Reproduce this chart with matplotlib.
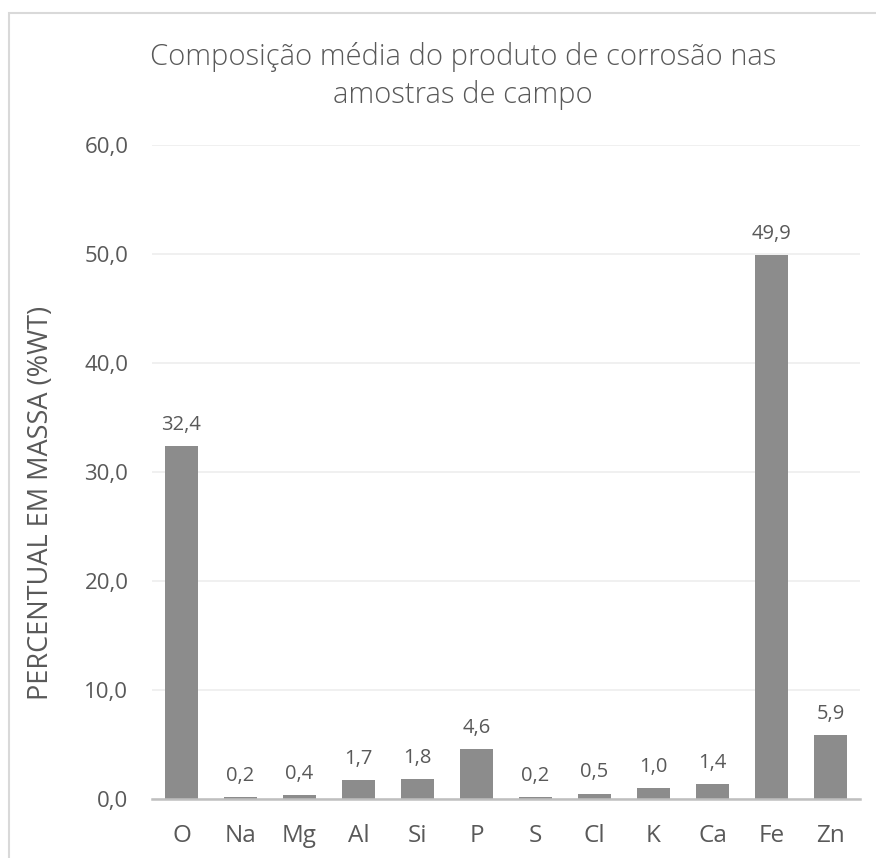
import matplotlib
matplotlib.use("Agg")
import matplotlib.pyplot as plt
from matplotlib.ticker import FuncFormatter, MultipleLocator
from matplotlib.patches import Rectangle

# dados do gráfico
elementos = ["O", "Na", "Mg", "Al", "Si", "P", "S", "Cl", "K", "Ca", "Fe", "Zn"]
valores = [32.4, 0.2, 0.4, 1.7, 1.8, 4.6, 0.2, 0.5, 1.0, 1.4, 49.9, 5.9]
titulo = "Composição média do produto de corrosão nas\namostras de campo"
rotulo_y = "PERCENTUAL EM MASSA (%WT)"

cor_texto = "#595959"
cor_barra = "#8C8C8C"

plt.rcParams["font.family"] = ["Open Sans", "DejaVu Sans"]

W, H = 876, 858
fig = plt.figure(figsize=(W / 100, H / 100), dpi=100)

# moldura do gráfico (estilo Excel)
fig.patches.append(Rectangle((9 / W, -0.1), 1.2, 1 - 13 / H + 0.1, transform=fig.transFigure,
                             fill=False, edgecolor="#D9D9D9", linewidth=1.5))

ax = fig.add_axes([152 / W, 1 - 799 / H, (860 - 152) / W, (799 - 145) / H])

x = range(len(elementos))
ax.bar(x, valores, width=0.56, color=cor_barra, zorder=3)

# rótulos de valor
for xi, v in zip(x, valores):
    ax.annotate(f"{v:.1f}".replace(".", ","), (xi, v), xytext=(0, 8), textcoords="offset points",
                ha="center", va="bottom", fontsize=14.5, color=cor_texto)

ax.set_xlim(-0.5, len(elementos) - 0.5)
ax.set_ylim(0, 60)
ax.yaxis.set_major_locator(MultipleLocator(10))
ax.yaxis.set_major_formatter(FuncFormatter(lambda v, p: f"{v:.1f}".replace(".", ",")))
ax.set_xticks(list(x))
ax.set_xticklabels(elementos)

ax.grid(axis="y", color="#EDEDED", linewidth=1.2, zorder=0)
for s in ["top", "right", "left"]:
    ax.spines[s].set_visible(False)
ax.spines["bottom"].set_color("#BFBFBF")
ax.spines["bottom"].set_linewidth(1.8)
ax.spines["bottom"].set_zorder(4)

ax.tick_params(axis="y", length=0, pad=17, labelsize=16, labelcolor=cor_texto)
ax.tick_params(axis="x", length=0, pad=18, labelsize=17.5, labelcolor=cor_texto)

fig.text(41 / W, 1 - 503 / H, rotulo_y, rotation=90, ha="center", va="center",
         fontsize=19.5, color=cor_texto)
fig.text(463 / W, 1 - 76 / H, titulo, ha="center", va="center", fontsize=21,
         color=cor_texto, fontweight="light", linespacing=1.33)

fig.savefig("out.png", dpi=100, facecolor="white")
